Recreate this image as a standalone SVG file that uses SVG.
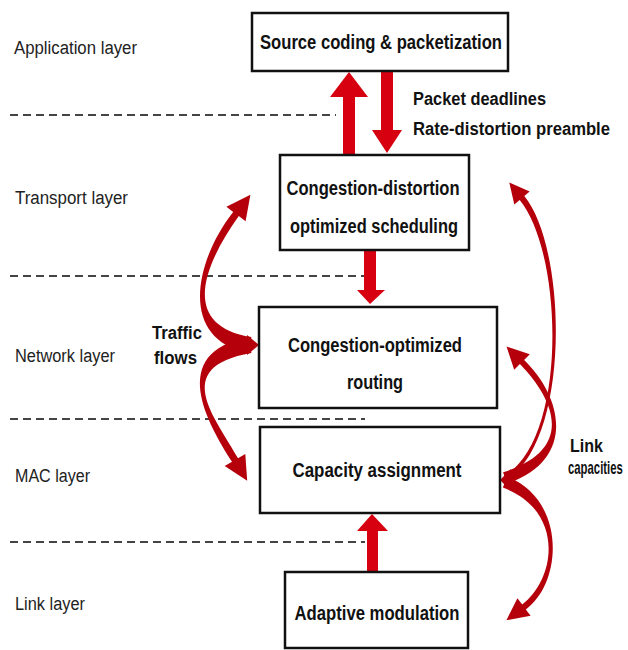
<svg xmlns="http://www.w3.org/2000/svg" width="628" height="650" viewBox="0 0 628 650">
<style>
.box{fill:#fff;stroke:#111;stroke-width:2.5}
.bt{font-family:"Liberation Sans",Arial,sans-serif;font-weight:bold;font-size:20px;fill:#111;text-anchor:middle}
.lt{font-family:"Liberation Sans",Arial,sans-serif;font-size:18px;fill:#222}
.nt{font-family:"Liberation Sans",Arial,sans-serif;font-weight:bold;font-size:18px;fill:#111}
.dash{stroke:#444;stroke-width:2;stroke-dasharray:8 5;fill:none}
.sa{fill:#d70010}
.ca{fill:#b5000c}
</style>
<rect width="628" height="650" fill="#fff"/>
<g id="layers">
<line class="dash" x1="10" y1="115" x2="336" y2="115"/>
<line class="dash" x1="10" y1="276" x2="365" y2="276"/>
<line class="dash" x1="10" y1="419" x2="365" y2="419"/>
<line class="dash" x1="10" y1="542" x2="365" y2="542"/>
<text class="lt" x="14" y="54" textLength="123" lengthAdjust="spacingAndGlyphs">Application layer</text>
<text class="lt" x="15" y="204" textLength="113" lengthAdjust="spacingAndGlyphs">Transport layer</text>
<text class="lt" x="15" y="362" textLength="100" lengthAdjust="spacingAndGlyphs">Network layer</text>
<text class="lt" x="15" y="482" textLength="75" lengthAdjust="spacingAndGlyphs">MAC layer</text>
<text class="lt" x="15" y="610" textLength="70" lengthAdjust="spacingAndGlyphs">Link layer</text>
</g>
<g id="connectors">
<polygon class="sa" points="343,155 343,97 330,97 349,72 368,97 355,97 355,155"/>
<polygon class="sa" points="381,71 381,130 372,130 387,153 402,130 393,130 393,71"/>
<polygon class="sa" points="364,250 364,290 357,290 370,304 385,290 376,290 376,250"/>
<polygon class="sa" points="367,571 367,531 357,531 372,514 388,531 378,531 378,571"/>
<path class="ca" d="M251.4,337.1 C179.2,325.1 204,265 238.8,216.1 L245.6,221.2 L250.4,194.8 L226.4,206.8 L233.2,211.9 C196,259 176.8,338.9 248.6,352.9 Z"/>
<path class="ca" d="M248.6,337.1 C166.7,353.1 207.7,423.5 232.0,461.8 L224.7,466.1 L247.2,480.7 L245.3,453.9 L238.0,458.2 C216.3,418.5 169.3,366.9 251.4,352.9 Z"/>
<polygon class="ca" points="247,335 259,345 247,355"/>
<path class="ca" d="M506.0,479.7 C571.0,441.7 567.3,248.1 524.3,196.1 L529.7,191.6 L509.3,182.6 L514.3,204.4 L519.7,199.9 C562.7,251.9 569.0,438.3 504.0,476.3 Z"/>
<path class="ca" d="M506.9,483.7 C576.6,459.8 562.8,397.2 524.1,359.9 L529.8,354.2 L506.5,346.5 L514.2,369.8 L519.9,364.1 C557.2,402.8 573.4,450.3 503.1,472.3 Z"/>
<path class="ca" d="M502.9,487.6 C563.2,509.7 557.6,576.8 522.2,604.6 L517.4,598.2 L506.4,620.2 L530.6,615.8 L525.8,609.4 C562.4,583.2 566.8,500.3 507.2,476.4 Z"/>
<polygon class="ca" points="511,469 500,480 511,491"/>
<text class="nt" x="413" y="105" textLength="133" lengthAdjust="spacingAndGlyphs">Packet deadlines</text>
<text class="nt" x="413" y="135" textLength="197" lengthAdjust="spacingAndGlyphs">Rate-distortion preamble</text>
<text class="nt" x="152" y="339" textLength="50" lengthAdjust="spacingAndGlyphs">Traffic</text>
<text class="nt" x="154" y="364" textLength="43" lengthAdjust="spacingAndGlyphs">flows</text>
<text class="nt" x="570" y="452" textLength="33" lengthAdjust="spacingAndGlyphs">Link</text>
<text class="nt" transform="translate(568,474) scale(0.63,1)" x="0" y="0">capacities</text>
</g>
<g id="n1">
<rect class="box" x="252" y="13" width="256" height="58"/>
<text class="bt" x="381" y="49" textLength="242" lengthAdjust="spacingAndGlyphs">Source coding &amp; packetization</text>
</g>
<g id="n2">
<rect class="box" x="280" y="155" width="189" height="95"/>
<text class="bt" x="373" y="195" textLength="173" lengthAdjust="spacingAndGlyphs">Congestion-distortion</text>
<text class="bt" x="374" y="233" textLength="168" lengthAdjust="spacingAndGlyphs">optimized scheduling</text>
</g>
<g id="n3">
<rect class="box" x="259" y="307" width="238" height="101"/>
<text class="bt" x="375" y="352" textLength="174" lengthAdjust="spacingAndGlyphs">Congestion-optimized</text>
<text class="bt" x="375" y="389" textLength="56" lengthAdjust="spacingAndGlyphs">routing</text>
</g>
<g id="n4">
<rect class="box" x="260" y="427" width="240" height="86"/>
<text class="bt" x="377" y="477" textLength="169" lengthAdjust="spacingAndGlyphs">Capacity assignment</text>
</g>
<g id="n5">
<rect class="box" x="285" y="572" width="183" height="76"/>
<text class="bt" x="377" y="620" textLength="165" lengthAdjust="spacingAndGlyphs">Adaptive modulation</text>
</g>
</svg>
